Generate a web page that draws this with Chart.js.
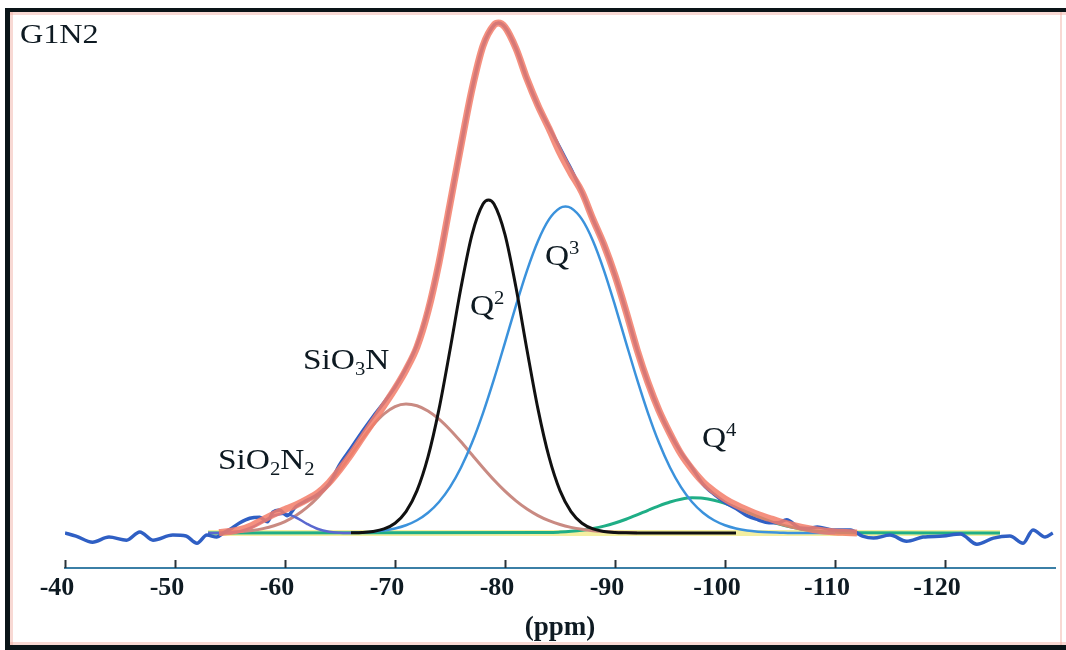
<!DOCTYPE html>
<html><head><meta charset="utf-8">
<script src="https://cdn.jsdelivr.net/npm/chart.js@4.4.1/dist/chart.umd.min.js"></script>
<style>html,body{margin:0;padding:0;background:#fff;}canvas{display:block;}</style>
</head><body>
<canvas id="c" width="1066" height="650"></canvas>
<script>
// ---- data (chemical shift in ppm, intensity in arbitrary units, tallest peak = 100) ----
const ppmExperimental = [-40,-41,-42.5,-44,-45.6,-46.8,-48,-49.8,-51,-52,-52.9,-53.8,-54.4,-55.2,-55.9,-56.8,-57.7,-58.4,-58.9,-59.5,-60.2,-61,-62,-63,-64,-65,-66,-67,-68,-69,-70,-71,-72,-73,-74,-75,-76,-77,-78,-79,-79.4,-80,-81,-82,-83,-84,-85,-85.6,-86.2,-87,-88,-89,-90,-91,-92,-93,-94,-95,-96,-97,-98,-99,-100,-101,-102,-103,-104,-104.8,-105.6,-106.8,-107.6,-108.4,-109.8,-111.4,-112.5,-113.5,-115,-116.5,-118,-119.8,-121.4,-122.9,-124.4,-125.9,-127.1,-128,-129.1,-129.8];
const intensityExperimental = [0,-0.6,-1.8,-0.8,-1.4,0.2,-1.4,-0.4,-0.6,-2.0,-0.4,-0.8,0,1.0,2.0,2.9,3.1,2.2,4.1,4.5,3.4,5.2,6.4,7.6,9.6,13.5,16.6,19.8,22.8,25.6,28.6,32.3,36.9,43.8,53.0,64.5,76.0,87.0,95.5,99.6,100,99.2,95.0,89.0,83.8,79.6,75.5,73.0,70.5,66.8,61.5,56.5,50.5,43.5,36.0,29.5,24.0,19.5,15.8,12.8,9.6,7.6,6.0,4.8,3.4,2.6,2.0,2.0,2.6,1.0,0.9,1.2,0.6,0.6,-0.6,-1.0,-0.4,-1.6,-0.8,-0.6,-0.2,-2.2,-1.0,-0.6,-2.0,0.6,-0.8,0];

const ppmFit = [-54,-55,-56,-57,-58,-59,-60,-61,-62,-63,-64,-65,-66,-67,-68,-69,-70,-71,-72,-73,-74,-75,-76,-77,-78,-79,-79.4,-80,-81,-82,-83,-84,-85,-86,-87,-88,-89,-90,-91,-92,-93,-94,-95,-96,-97,-98,-99,-100,-101,-102,-103,-104,-105,-106,-107,-108,-109,-110,-111,-112];
const intensityFit = [0.1,0.3,0.7,1.5,2.6,3.7,4.6,5.5,6.6,7.9,9.9,12.5,15.4,18.6,21.8,25.0,28.3,32.0,36.5,43.5,53.0,64.5,76.0,87.0,95.5,99.6,100,99.2,95.0,89.0,83.8,79.3,74.5,70.5,66.8,61.5,56.5,50.5,43.5,36.0,29.5,24.0,19.5,15.5,12.5,10.0,8.2,6.7,5.5,4.5,3.6,2.9,2.2,1.6,1.1,0.7,0.4,0.2,0.1,0];

const ppmSiO2N2 = [-53,-54,-55,-56,-57,-58,-59,-60,-61,-62,-63,-64,-65,-66];
const intensitySiO2N2 = [0,0.02,0.11,0.41,1.13,2.30,3.44,3.78,3.04,1.80,0.78,0.25,0.06,0];

const ppmSiO3N = [-54,-55,-56,-57,-58,-59,-60,-61,-62,-63,-64,-65,-66,-67,-68,-69,-70,-71,-72,-73,-74,-75,-76,-77,-78,-79,-80,-81,-82,-83,-84,-85,-86,-87,-88,-89,-90,-91,-92];
const intensitySiO3N = [0.08,0.15,0.28,0.50,0.86,1.42,2.25,3.42,5.01,7.03,9.50,12.32,15.34,18.37,21.13,23.35,24.80,25.3,24.95,23.93,22.33,20.26,17.88,15.34,12.81,10.40,8.21,6.31,4.71,3.42,2.42,1.66,1.11,0.72,0.46,0.28,0.17,0.10,0.05];

const ppmQ2 = [-66,-67,-68,-69,-70,-71,-72,-73,-74,-75,-76,-77,-78,-78.5,-79,-80,-81,-82,-83,-84,-85,-86,-87,-88,-89,-90,-91,-92,-101];
const intensityQ2 = [0.03,0.10,0.30,0.80,1.92,4.19,8.30,14.91,24.29,35.90,48.13,58.51,64.51,65.3,64.51,58.51,48.13,35.90,24.29,14.91,8.30,4.19,1.92,0.80,0.30,0.10,0.03,0,0];

const ppmQ3 = [-66,-67,-68,-69,-70,-71,-72,-73,-74,-75,-76,-77,-78,-79,-80,-81,-82,-83,-84,-85,-85.5,-86,-87,-88,-89,-90,-91,-92,-93,-94,-95,-96,-97,-98,-99,-100,-101,-102,-103,-104,-105,-106,-110];
const intensityQ3 = [0.07,0.14,0.27,0.50,0.89,1.52,2.50,3.97,6.08,8.99,12.84,17.69,23.52,30.17,37.35,44.63,51.46,57.26,61.49,63.72,64,63.72,61.49,57.26,51.46,44.63,37.35,30.17,23.52,17.69,12.84,8.99,6.08,3.97,2.50,1.52,0.89,0.50,0.27,0.14,0.07,0,0];

const ppmQ4 = [-53,-84,-85,-86,-87,-88,-89,-90,-91,-92,-93,-94,-95,-96,-97,-98,-99,-100,-101,-102,-103,-104,-105,-106,-107,-108,-109,-110,-111,-112,-125];
const intensityQ4 = [0,0.1,0.19,0.34,0.56,0.89,1.35,1.96,2.70,3.55,4.46,5.33,6.09,6.63,6.89,6.82,6.44,5.81,4.99,4.09,3.20,2.39,1.70,1.15,0.75,0.46,0.27,0.15,0.08,0.04,0];

const ppmBaseline = [-53,-125];
const intensityBaseline = [0,0];

const xTickValues = [-40,-50,-60,-70,-80,-90,-100,-110,-120];

// ---- helpers ----
const pts = (xs, ys) => xs.map((x, i) => ({x: x, y: ys[i]}));
const SERIF = '"Liberation Serif","Times New Roman","DejaVu Serif",serif';
const INK = '#0e1a22';

function drawRich(ctx, x, y, runs, size, weight) {
  ctx.save();
  ctx.translate(x, y);
  ctx.scale(1.15, 1);
  ctx.fillStyle = INK;
  ctx.textBaseline = 'alphabetic';
  ctx.textAlign = 'left';
  let cx = 0;
  for (const r of runs) {
    const fs = r.s ? size * 0.62 : size;
    ctx.font = (weight || '') + ' ' + fs + 'px ' + SERIF;
    const dy = r.s === 'sub' ? size * 0.22 : (r.s === 'sup' ? -size * 0.36 : 0);
    ctx.fillText(r.t, cx, dy);
    cx += ctx.measureText(r.t).width;
  }
  ctx.restore();
}

const annotations = [
  {ppm: -61.64, h: 32.2, runs: [{t: 'SiO'}, {t: '3', s: 'sub'}, {t: 'N'}]},
  {ppm: -53.91, h: 12.6, runs: [{t: 'SiO'}, {t: '2', s: 'sub'}, {t: 'N'}, {t: '2', s: 'sub'}]},
  {ppm: -76.82, h: 42.8, runs: [{t: 'Q'}, {t: '2', s: 'sup'}]},
  {ppm: -83.64, h: 52.6, runs: [{t: 'Q'}, {t: '3', s: 'sup'}]},
  {ppm: -97.91, h: 16.9, runs: [{t: 'Q'}, {t: '4', s: 'sup'}]}
];

const decor = {
  id: 'decor',
  beforeDraw(chart) {
    const ctx = chart.ctx;
    ctx.save();
    ctx.fillStyle = '#ffffff';
    ctx.fillRect(0, 0, chart.width, chart.height);
    ctx.restore();
  },
  afterDraw(chart) {
    const ctx = chart.ctx;
    const xs = chart.scales.x, ys = chart.scales.y;
    ctx.save();
    // upward tick marks on the x axis
    ctx.strokeStyle = '#2b3338';
    ctx.lineWidth = 2;
    for (const v of xTickValues) {
      const px = Math.round(xs.getPixelForValue(v)) + 0.5;
      ctx.beginPath();
      ctx.moveTo(px, xs.top);
      ctx.lineTo(px, xs.top - 8);
      ctx.stroke();
    }
    // labels
    for (const a of annotations) {
      drawRich(ctx, xs.getPixelForValue(a.ppm), ys.getPixelForValue(a.h), a.runs, 29);
    }
    drawRich(ctx, 20, 43, [{t: 'G1N2'}], 28);
    // frame
    ctx.fillStyle = 'rgba(240,170,160,0.45)';
    ctx.fillRect(10, 12, 1056, 3);
    ctx.fillRect(10, 12, 3, 633);
    ctx.fillRect(10, 642, 1056, 3);
    ctx.fillRect(1060, 12, 2, 633);
    ctx.fillStyle = '#0a1418';
    ctx.fillRect(5, 8, 1061, 4);
    ctx.fillRect(5, 8, 5, 642);
    ctx.fillRect(5, 645, 1061, 5);
    ctx.restore();
  }
};

const common = {fill: false, pointRadius: 0, cubicInterpolationMode: 'monotone'};

new Chart(document.getElementById('c'), {
  type: 'line',
  data: {
    datasets: [
      Object.assign({label: 'Fit', data: pts(ppmFit, intensityFit), borderColor: 'rgba(243,124,104,0.85)', borderWidth: 7, order: 0}, common),
      Object.assign({label: 'Experimental', data: pts(ppmExperimental, intensityExperimental), borderColor: '#2f5fc4', borderWidth: 3.5, order: 1}, common),
      Object.assign({label: 'Q2', data: pts(ppmQ2, intensityQ2), borderColor: '#111111', borderWidth: 3, order: 2}, common),
      Object.assign({label: 'Q3', data: pts(ppmQ3, intensityQ3), borderColor: '#3b92dc', borderWidth: 2.5, order: 3}, common),
      Object.assign({label: 'SiO2N2', data: pts(ppmSiO2N2, intensitySiO2N2), borderColor: '#5a68cf', borderWidth: 2.5, order: 4}, common),
      Object.assign({label: 'SiO3N', data: pts(ppmSiO3N, intensitySiO3N), borderColor: '#c98a82', borderWidth: 3, order: 5}, common),
      Object.assign({label: 'Q4', data: pts(ppmQ4, intensityQ4), borderColor: '#1fae86', borderWidth: 3, order: 6}, common),
      Object.assign({label: 'Baseline', data: pts(ppmBaseline, intensityBaseline), borderColor: 'rgba(240,232,120,0.7)', borderWidth: 6, order: 7}, common)
    ]
  },
  options: {
    responsive: false,
    animation: false,
    devicePixelRatio: 1,
    layout: {padding: {left: 65, right: 11, top: 13, bottom: 0}},
    plugins: {legend: {display: false}, tooltip: {enabled: false}},
    scales: {
      x: {
        type: 'linear',
        min: -130,
        max: -40,
        reverse: true,
        afterBuildTicks: (s) => { s.ticks = xTickValues.map(v => ({value: v})); },
        afterFit: (s) => { s.height = 82; },
        grid: {display: true, drawOnChartArea: false, drawTicks: false},
        border: {display: true, color: '#3b7fa6', width: 2},
        ticks: {
          padding: 5,
          labelOffset: -8,
          maxRotation: 0,
          autoSkip: false,
          color: INK,
          font: {family: SERIF, size: 26, weight: 'bold'},
          callback: (v) => String(v)
        },
        title: {
          display: true,
          text: '(ppm)',
          color: INK,
          font: {family: SERIF, size: 27, weight: 'bold'},
          padding: {top: 0, bottom: 6}
        }
      },
      y: {
        display: false,
        min: -6.86,
        max: 101.96
      }
    }
  },
  plugins: [decor]
});
</script>
</body></html>
